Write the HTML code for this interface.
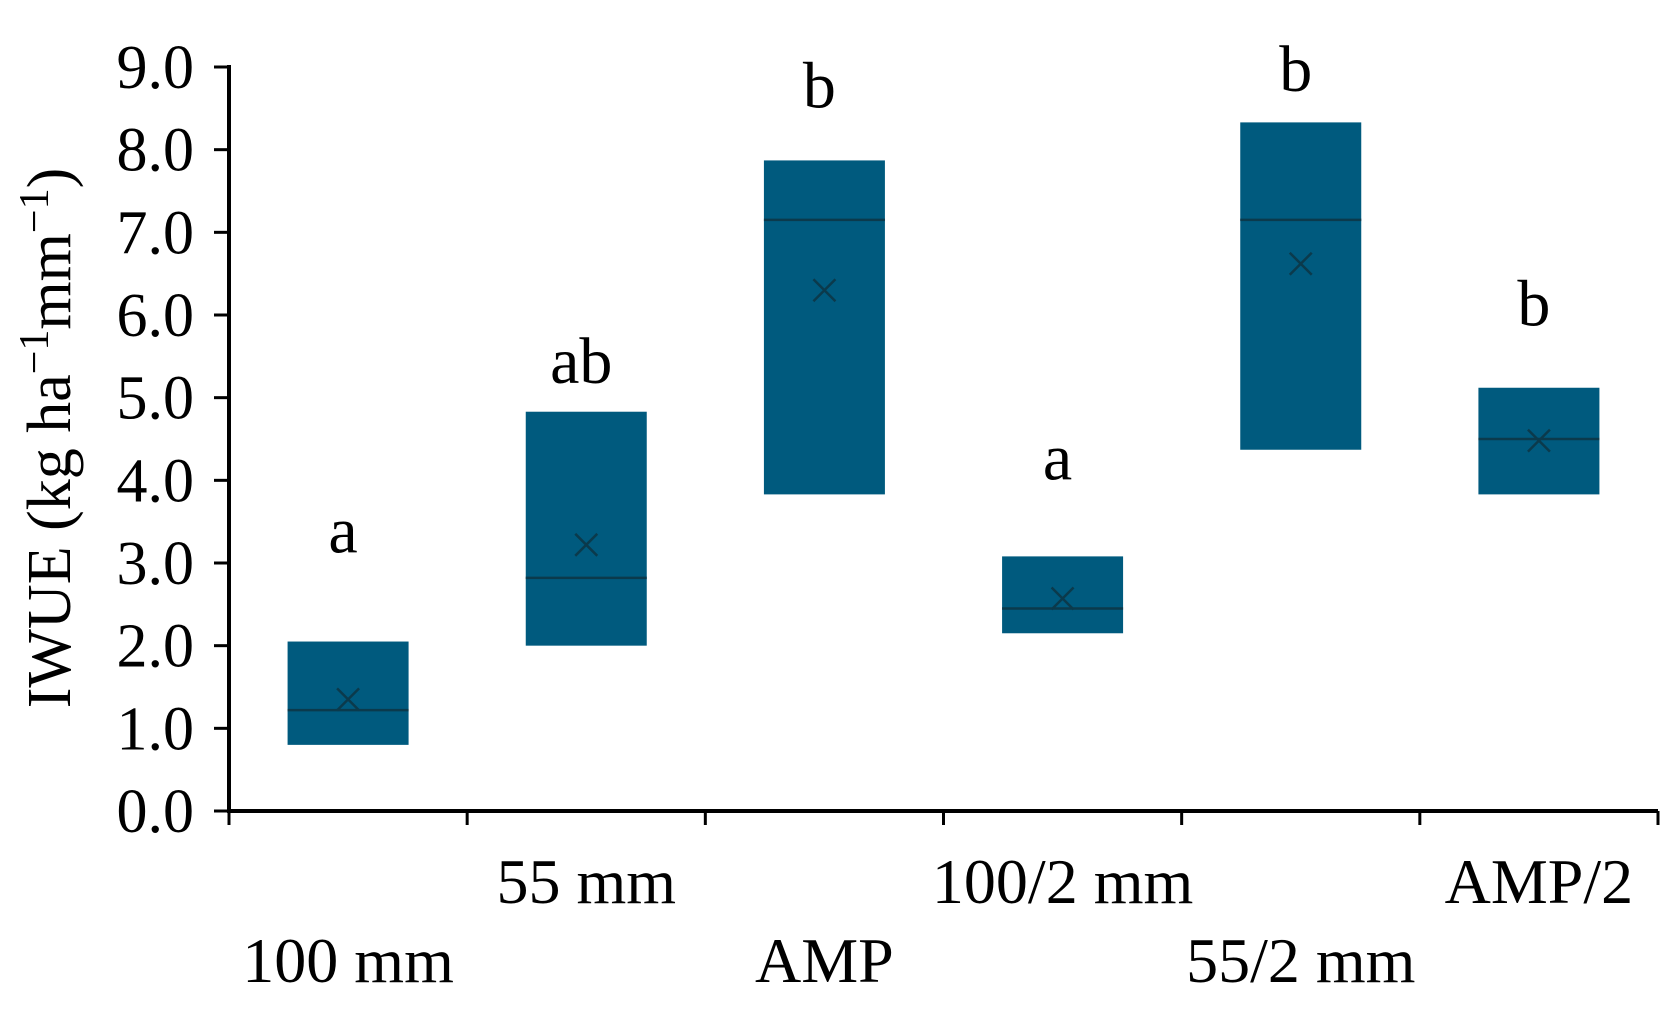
<!DOCTYPE html>
<html><head><meta charset="utf-8"><style>
html,body{margin:0;padding:0;background:#fff;}
svg{display:block;}
text{font-family:"Liberation Serif",serif;fill:#000;}
</style></head><body>
<svg id="chart" width="1677" height="1013">
<g id="g"></g>
</svg>
<script>
const categories=["100 mm","55 mm","AMP","100/2 mm","55/2 mm","AMP/2"];
const q1=[0.8,2.0,3.83,2.15,4.37,3.83];
const q3=[2.05,4.83,7.87,3.08,8.33,5.12];
const medians=[1.22,2.82,7.15,2.45,7.15,4.5];
const means=[1.35,3.22,6.3,2.57,6.62,4.48];
const letters=["a","ab","b","a","b","b"];
const letterY=[3.13,5.18,8.51,4.01,8.71,5.87];
const yTicks=[0,1,2,3,4,5,6,7,8,9];
const yTickLabels=["0.0","1.0","2.0","3.0","4.0","5.0","6.0","7.0","8.0","9.0"];

const X0=229,X1=1658,Y0=811,Y9=67;
const y=v=>Y0-(v/9)*(Y0-Y9);
const bw=(X1-X0)/categories.length;
const xc=i=>X0+bw*(i+0.5);
const NS="http://www.w3.org/2000/svg";
const g=document.getElementById('g');
function mk(t,a,txt){const e=document.createElementNS(NS,t);for(const k in a)e.setAttribute(k,a[k]);if(txt!=null)e.textContent=txt;g.appendChild(e);return e;}

categories.forEach((c,i)=>{
  const cx=xc(i),w=121;
  const r=mk('rect',{x:cx-w/2,y:y(q3[i]),width:w,height:y(q1[i])-y(q3[i]),fill:'#005a7e'});
  
  
  const m=mk('line',{x1:cx-w/2,x2:cx+w/2,y1:y(medians[i]),y2:y(medians[i]),stroke:'#0b3a4c','stroke-width':2.5});
  
  
  const my=y(means[i]),s=11;
  const mm=mk('path',{d:`M${cx-s} ${my-s}L${cx+s} ${my+s}M${cx-s} ${my+s}L${cx+s} ${my-s}`,stroke:'#0b3a4c','stroke-width':2.5,fill:'none'});
  
  
  const l=mk('text',{x:cx-5,y:y(letterY[i]),'text-anchor':'middle','font-size':66},letters[i]);
  
  
  const lab=mk('text',{x:cx,y:i%2===0?982:903,'text-anchor':'middle','font-size':64},c);
  
  
});
const ya=mk('line',{x1:X0,x2:X0,y1:Y9-2,y2:Y0,stroke:'#000','stroke-width':4});


const xa=mk('line',{x1:X0-2,x2:X1,y1:Y0,y2:Y0,stroke:'#000','stroke-width':4});


yTicks.forEach((v,i)=>{
  const t=mk('line',{x1:X0-15,x2:X0,y1:y(v),y2:y(v),stroke:'#000','stroke-width':3});
  
  
  const tl=mk('text',{x:194,y:y(v)+21,'text-anchor':'end','font-size':62},yTickLabels[i]);
  
  
});
for(let i=0;i<=categories.length;i++){
  const xt=X0+bw*i;
  const t=mk('line',{x1:xt,x2:xt,y1:Y0,y2:Y0+14,stroke:'#000','stroke-width':3});
  
  
}
const tt=mk('text',{x:0,y:0,'text-anchor':'middle','font-size':62,transform:'translate(70,438) rotate(-90)'});
tt.innerHTML='IWUE (kg ha<tspan dy="-22" font-size="42">−1</tspan><tspan dy="22">mm</tspan><tspan dy="-22" font-size="42">−1</tspan><tspan dy="22">)</tspan>';


</script>
</body></html>
